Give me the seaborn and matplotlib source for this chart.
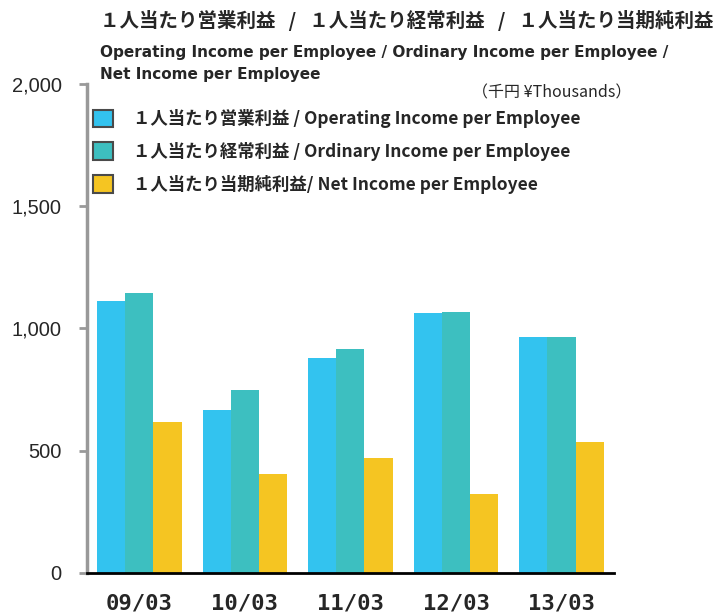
import matplotlib
matplotlib.use("Agg")
import pandas as pd
import seaborn as sns
from matplotlib import pyplot as plt

years = ["09/03", "10/03", "11/03", "12/03", "13/03"]
operating = [1110, 666, 880, 1061, 966]
ordinary = [1143, 748, 913, 1065, 966]
net = [617, 403, 469, 321, 535]

series_names = ["１人当たり営業利益 / Operating Income per Employee",
                "１人当たり経常利益 / Ordinary Income per Employee",
                "１人当たり当期純利益/ Net Income per Employee"]
colors = ["#33C3EF", "#3DBFC0", "#F5C522"]

df = pd.DataFrame({
    "year": years * 3,
    "value": operating + ordinary + net,
    "series": [series_names[0]] * 5 + [series_names[1]] * 5 + [series_names[2]] * 5,
})

sns.set_style("white")
plt.rcParams["font.family"] = ["Noto Sans CJK JP", "DejaVu Sans"]

fig = plt.figure(figsize=(7.21, 6.14), dpi=100)
ax = fig.add_axes([0.12, 0.067, 0.732, 0.797])

sns.barplot(data=df, x="year", y="value", hue="series", palette=colors,
            width=0.8, gap=0, ax=ax, saturation=1, linewidth=0)

ax.set_xlim(-0.5, 4.5)
ax.set_ylim(0, 2000)
ax.set_yticks([0, 500, 1000, 1500, 2000])
ax.set_yticklabels(["0", "500", "1,000", "1,500", "2,000"], fontsize=14.5,
                   family="Liberation Sans")
ax.set_xlabel("")
ax.set_ylabel("")
ax.set_xticks(range(5))
ax.set_xticklabels(years, fontsize=16, fontweight="bold", family="DejaVu Sans Mono")
ax.set_xticks([-0.5, 0.5, 1.5, 2.5, 3.5, 4.5], minor=True)
ax.tick_params(axis="x", which="major", length=0, pad=15)
ax.tick_params(axis="x", which="minor", length=6, width=1.5, direction="in",
               color="black")
ax.tick_params(axis="y", length=6, width=2, color="#999999", pad=12,
               direction="out", left=True)

for s in ["top", "right"]:
    ax.spines[s].set_visible(False)
ax.spines["left"].set_color("#999999")
ax.spines["left"].set_linewidth(2.5)
ax.spines["bottom"].set_color("black")
ax.spines["bottom"].set_linewidth(2)

leg = ax.legend(loc="upper left", bbox_to_anchor=(93 / 721, 1 - 109 / 614),
                bbox_transform=fig.transFigure, frameon=False,
                handlelength=1.15, handleheight=1.15, labelspacing=0.8,
                handletextpad=1.15, borderpad=0, borderaxespad=0,
                prop={"size": 12.5, "weight": "bold"})
for h in leg.legend_handles:
    h.set_edgecolor("#4a4a4a")
    h.set_linewidth(1.5)

fig.text(0.139, 0.967, "１人当たり営業利益   /   １人当たり経常利益   /   １人当たり当期純利益",
         fontsize=14, fontweight="bold", va="center", ha="left")
fig.text(0.139, 0.915, "Operating Income per Employee / Ordinary Income per Employee /",
         fontsize=11, fontweight="bold", va="center", ha="left", family="DejaVu Sans")
fig.text(0.139, 0.879, "Net Income per Employee",
         fontsize=11, fontweight="bold", va="center", ha="left", family="DejaVu Sans")
fig.text(0.876, 0.848, "（千円 ¥Thousands）", fontsize=11.5, va="center", ha="right")

fig.savefig("out.png", dpi=100)
